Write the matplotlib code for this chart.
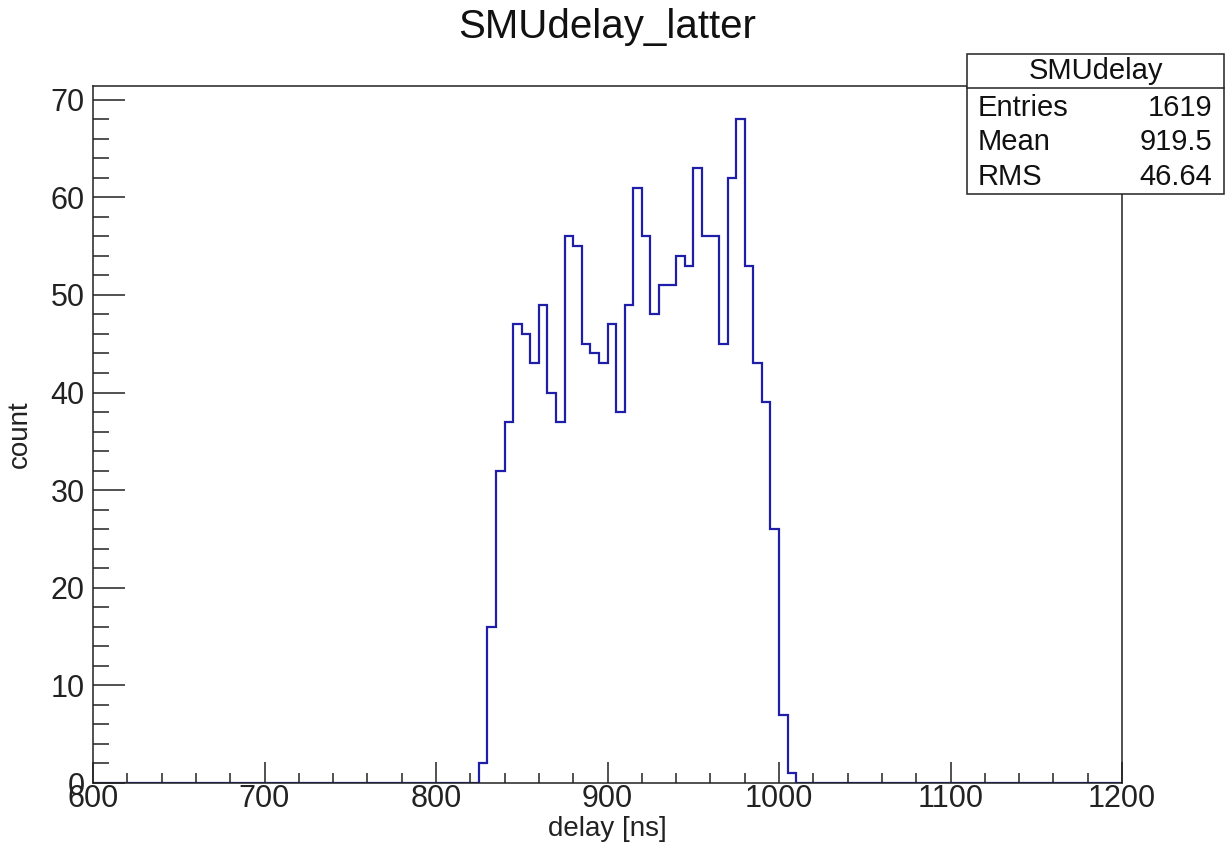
import numpy as np
import matplotlib
matplotlib.use('agg')
import matplotlib.pyplot as plt
from matplotlib.patches import Rectangle
from matplotlib.lines import Line2D
from matplotlib.ticker import MultipleLocator

########################################################################
# data (5 ns bins, 600 - 1200 ns) --------------------------------------
########################################################################
x_min, x_max, bin_w = 600, 1200, 5
first_bin = 825          # lower edge of first non-empty bin
counts = [2, 16, 32, 37, 47, 46, 43, 49, 40, 37,
          56, 55, 45, 44, 43, 47, 38, 49, 61, 56,
          48, 51, 51, 54, 53, 63, 56, 56, 45, 62,
          68, 53, 43, 39, 26, 7, 1]
stat_names = ['Entries', 'Mean', 'RMS']
stat_values = ['1619', '919.5', '46.64']
hist_name = 'SMUdelay'
title = 'SMUdelay_latter'

edges = np.arange(x_min, x_max + bin_w, bin_w)
h = np.zeros(len(edges) - 1)
i0 = (first_bin - x_min) // bin_w
h[i0:i0 + len(counts)] = counts

plt.rcParams['font.family'] = ['Liberation Sans', 'DejaVu Sans']

W, H = 1226, 846
fig = plt.figure(figsize=(W / 100, H / 100), dpi=100)
ax = fig.add_axes([93 / W, 1 - 783 / H, (1122 - 93) / W, (783 - 86) / H])

ax.stairs(h, edges, color='#1e1ea8', lw=1.6)

ax.set_xlim(x_min, x_max)
ax.set_ylim(0, 71.4)
ax.xaxis.set_major_locator(MultipleLocator(100))
ax.xaxis.set_minor_locator(MultipleLocator(20))
ax.yaxis.set_major_locator(MultipleLocator(10))
ax.yaxis.set_minor_locator(MultipleLocator(2))
ax.tick_params(axis='both', which='both', direction='in', top=False, right=False,
               width=1.1, colors='#222222', labelsize=22, labelcolor='#222222')
ax.tick_params(axis='x', which='major', length=15, pad=1)
ax.tick_params(axis='x', which='minor', length=7.5)
ax.tick_params(axis='y', which='major', length=23, pad=6)
ax.tick_params(axis='y', which='minor', length=11.5)
for s in ax.spines.values():
    s.set_linewidth(1.1)
    s.set_color('#222222')

fig.text(607 / W, 1 - 829 / H, 'delay [ns]', ha='center', va='center', fontsize=20, color='#222222')
fig.text(20 / W, 1 - 434 / H, 'count', ha='center', va='center', rotation=90, fontsize=20, color='#222222')
fig.text(607 / W, 1 - 27 / H, title, ha='center', va='center', fontsize=29, color='#111111')

# stats box ------------------------------------------------------------
bx0, bx1, by0, by1, byh = 967, 1224, 54, 194, 88
fig.patches.append(Rectangle((bx0 / W, 1 - by1 / H), (bx1 - bx0) / W, (by1 - by0) / H,
                             transform=fig.transFigure, fill=True, facecolor='white',
                             edgecolor='#222222', lw=1.1, zorder=5))
fig.lines.append(Line2D([bx0 / W, bx1 / W], [1 - byh / H, 1 - byh / H],
                        transform=fig.transFigure, color='#222222', lw=1.1, zorder=6))
fig.text((bx0 + bx1) / 2 / W, 1 - 71 / H, hist_name, ha='center', va='center',
         fontsize=21, color='#111111', zorder=7)
row_y = [108, 142, 177]
for n, v, yy in zip(stat_names, stat_values, row_y):
    fig.text(978 / W, 1 - yy / H, n, ha='left', va='center', fontsize=21, color='#111111', zorder=7)
    fig.text(1212 / W, 1 - yy / H, v, ha='right', va='center', fontsize=21, color='#111111', zorder=7)

fig.savefig('out.png', dpi=100)
